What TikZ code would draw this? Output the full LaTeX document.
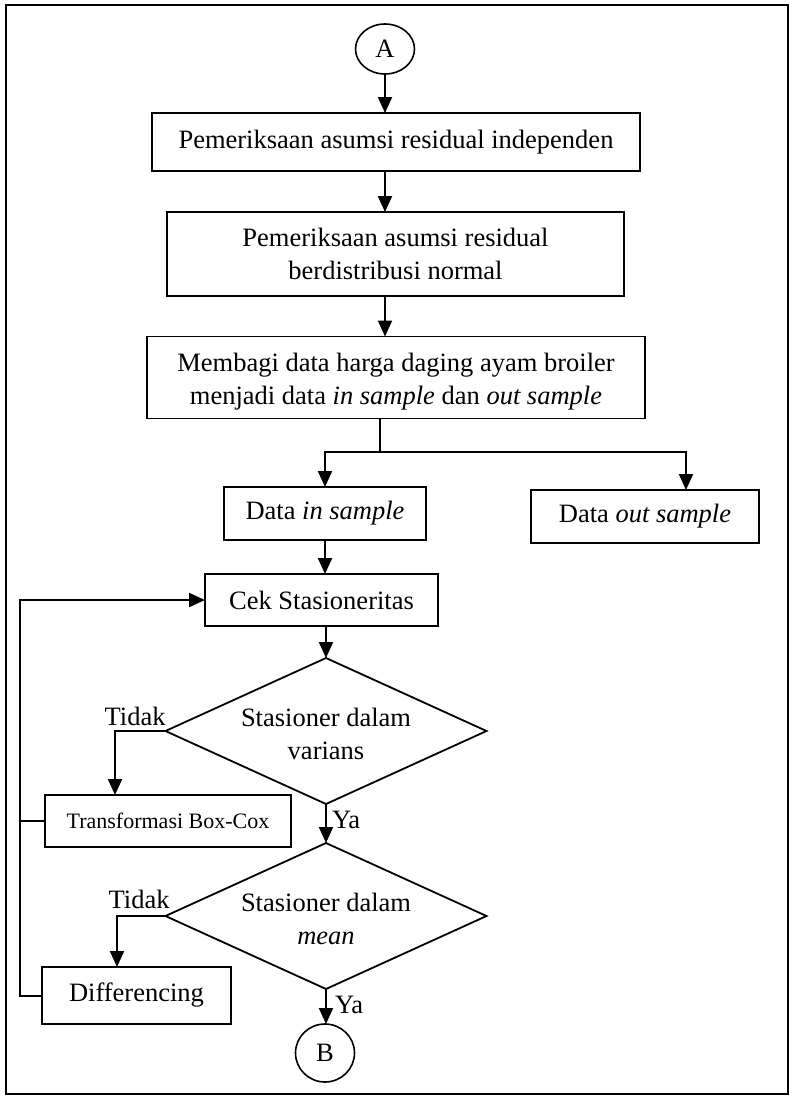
\documentclass[tikz,border=0pt]{standalone}
\usepackage{fontspec}
\setmainfont{Liberation Serif}
\usetikzlibrary{shapes.geometric,arrows.meta}
\begin{document}
\begin{tikzpicture}[x=1pt,y=-1pt,
  every node/.style={inner sep=0pt,outer sep=0pt},
  txt/.style={font=\fontsize{26.5}{33}\selectfont,align=center},
  procbox/.style={draw,line width=1.8pt,rectangle,txt},
  termcirc/.style={draw,line width=1.6pt,ellipse,txt,minimum width=59pt,minimum height=50pt},
  decision/.style={draw,line width=1.8pt,diamond,minimum width=321pt,minimum height=146pt},
  conn/.style={line width=2pt},
  arr/.style={conn,-{Triangle[length=16pt,width=14pt]}},
  lbl/.style={font=\fontsize{26.5}{30}\selectfont}
]
\useasboundingbox (0,0) rectangle (789,1096);
\draw[line width=1.5pt] (6,5) rectangle (788,1094);

\node[termcirc] (A) at (385,49) {A};
\node[procbox,minimum width=488pt,minimum height=58pt] (b1) at (396,142) {Pemeriksaan asumsi residual independen};
\node[procbox,minimum width=457pt,minimum height=84pt] (b2) at (395.5,254) {Pemeriksaan asumsi residual\\berdistribusi normal};
\node[procbox,minimum width=498pt,minimum height=82pt] (b3) at (396,377.5) {};
\node[txt] (b3t) at (396,382) {Membagi data harga daging ayam broiler\\menjadi data \textit{in sample} dan \textit{out sample}};
\node[procbox,minimum width=202pt,minimum height=53pt] (din) at (325,513.5) {Data \textit{in sample}};
\node[procbox,minimum width=228pt,minimum height=53pt] (dout) at (645,516.5) {Data \textit{out sample}};
\node[procbox,minimum width=233pt,minimum height=52pt] (cek) at (321.5,600) {Cek Stasioneritas};
\node[decision] (d1) at (326,731) {};
\node[txt] (d1t) at (326,734) {Stasioner dalam\\varians};
\node[decision] (d2) at (326,916) {};
\node[txt] (d2t) at (326,919) {Stasioner dalam\\\textit{mean}};
\node[procbox,minimum width=246pt,minimum height=52pt,font=\fontsize{22}{26}\selectfont] (tr) at (168,821) {Transformasi Box-Cox};
\node[procbox,minimum width=189pt,minimum height=57pt] (dif) at (136.5,995.5) {Differencing};
\node[termcirc,minimum height=58pt] (B) at (325,1053) {B};

\node[lbl,anchor=base east] (t1) at ([yshift=6pt]d1.west) {Tidak};
\node[lbl,anchor=base east] (t2) at ([xshift=4pt,yshift=8pt]d2.west) {Tidak};
\node[lbl,anchor=base west] (y1) at ([xshift=6pt,yshift=-24pt]d1.south) {Ya};
\node[lbl,anchor=base west] (y2) at ([xshift=9pt,yshift=-24pt]d2.south) {Ya};

\coordinate (split) at (380,452);
\coordinate (loopb) at (20,995.5);

\draw[arr] (A.south) -- (A.south |- b1.north);
\draw[arr] (385,0 |- b1.south) -- (385,0 |- b2.north);
\draw[arr] (385,0 |- b2.south) -- (385,0 |- b3.north);
\draw[conn] (split |- b3.south) -- (split);
\draw[arr] (split) -| (din.north);
\draw[arr] (split) -| ([xshift=41pt]dout.north);
\draw[arr] (din.south) -- (din.south |- cek.north);
\draw[arr] (d1.north |- cek.south) -- (d1.north);
\draw[arr] (d1.south) -- (d2.north);
\draw[arr] (d2.south) -- (d2.south |- B.north);
\draw[arr] (d1.west) -| ([xshift=-53pt]tr.north);
\draw[arr] (d2.west) -| ([xshift=-19.5pt]dif.north);
\draw[conn] (tr.west) -- (tr.west -| loopb);
\draw[arr] (dif.west) -- (loopb) |- (cek.west);
\end{tikzpicture}
\end{document}
